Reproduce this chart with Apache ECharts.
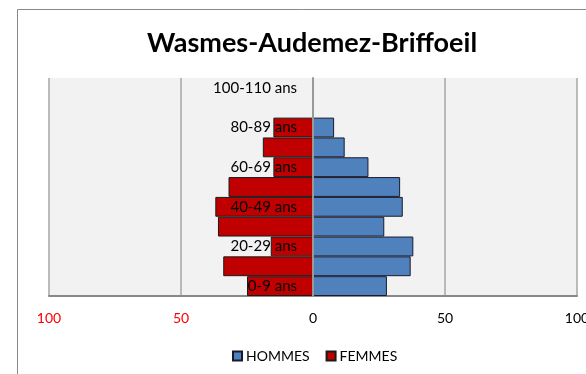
<!DOCTYPE html>
<html>
<head>
<meta charset="utf-8">
<script src="https://cdn.jsdelivr.net/npm/echarts@6/dist/echarts.min.js"></script>
<style>
  html, body { margin: 0; padding: 0; background: #ffffff; }
  #chart { width: 586px; height: 374px; }
</style>
</head>
<body>
<div id="chart"></div>
<script>
// Age groups, bottom to top
const categories = ['0-9 ans', '10-19 ans', '20-29 ans', '30-39 ans', '40-49 ans',
  '50-59 ans', '60-69 ans', '70-79 ans', '80-89 ans', '90-99 ans', '100-110 ans'];
// Population per age group
const hommes = [28, 37, 38, 27, 34, 33, 21, 12, 8, 0, 0];
const femmes = [25, 34, 16, 36, 37, 32, 15, 19, 15, 0, 0];
// Horizontal scale
const axisMin = -100;
const axisMax = 100;
const axisStep = 50;

const FONT = 'Lato, "Open Sans", sans-serif';
const GRID_LEFT = 49;
const GRID_RIGHT = 9;
const GRID_WIDTH = 586 - GRID_LEFT - GRID_RIGHT;
// shift the category axis from the left edge to the zero of the value axis
const zeroShift = GRID_WIDTH * (0 - axisMin) / (axisMax - axisMin);

const chart = echarts.init(document.getElementById('chart'), null, { renderer: 'canvas' });

chart.setOption({
  animation: false,
  backgroundColor: '#ffffff',
  title: {
    text: 'Wasmes-Audemez-Briffoeil',
    left: 142,
    top: 25,
    textStyle: { fontFamily: FONT, fontWeight: 'bold', fontSize: 27, color: '#000000' }
  },
  graphic: [{
    type: 'rect',
    silent: true,
    z: -1,
    shape: { x: 17.5, y: 9.5, width: 700, height: 500 },
    style: { fill: 'none', stroke: '#8a8a8a', lineWidth: 1 }
  }],
  legend: {
    data: ['HOMMES', 'FEMMES'],
    left: 227,
    top: 344,
    icon: 'rect',
    itemWidth: 9,
    itemHeight: 9,
    itemGap: 16,
    textStyle: { fontFamily: FONT, fontSize: 14, color: '#000000', padding: [0, 0, 0, -1] }
  },
  grid: {
    left: GRID_LEFT, right: GRID_RIGHT, top: 78, bottom: 78,
    containLabel: false, outerBoundsMode: 'none',
    show: true, backgroundColor: '#f2f2f2', borderWidth: 0
  },
  xAxis: {
    type: 'value',
    min: axisMin, max: axisMax, interval: axisStep,
    axisLine: { show: true, onZero: false, lineStyle: { color: '#888888', width: 2 } },
    axisTick: { show: false },
    splitLine: { show: true, lineStyle: { color: '#a6a6a6', width: 1.5 } },
    axisLabel: {
      margin: 15,
      hideOverlap: false,
      fontFamily: FONT, fontSize: 14,
      color: v => (v < 0 ? '#ff0000' : '#000000'),
      formatter: v => String(Math.abs(v))
    }
  },
  yAxis: {
    type: 'category',
    data: categories,
    z: 10,
    offset: -zeroShift,
    axisLine: { show: true, onZero: false, lineStyle: { color: '#999999', width: 2 } },
    axisTick: { show: false },
    splitLine: { show: false },
    axisLabel: { interval: 1, margin: 16, fontFamily: FONT, fontSize: 15, color: '#000000' }
  },
  series: [
    {
      name: 'HOMMES',
      type: 'bar',
      data: hommes,
      barGap: '-100%',
      barCategoryGap: '0%',
      itemStyle: { color: '#4f81bd', borderColor: '#1a1a2e', borderWidth: 1 }
    },
    {
      name: 'FEMMES',
      type: 'bar',
      data: femmes.map(v => -v),
      barGap: '-100%',
      barCategoryGap: '0%',
      itemStyle: { color: '#c00000', borderColor: '#1a1a1a', borderWidth: 1 }
    }
  ]
});
</script>
</body>
</html>
